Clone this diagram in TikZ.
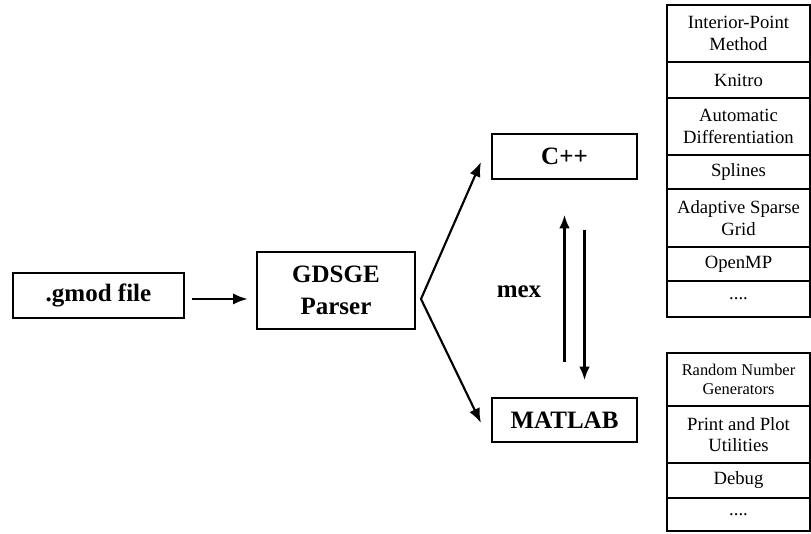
\documentclass[tikz,border=0pt]{standalone}
\usepackage{fontspec}
\setmainfont{Liberation Serif}
\usetikzlibrary{positioning,arrows.meta}

\begin{document}
\begin{tikzpicture}[x=0.75pt,y=-0.75pt,
	box/.style={draw,line width=1.8pt,inner sep=0pt,outer sep=0pt,align=center,
		font=\fontsize{18.75}{23.75}\selectfont\bfseries},
	cell/.style={draw,line width=1.2pt,inner sep=0pt,outer sep=0pt,align=center,
		minimum width=107.25pt,font=\fontsize{14}{16.3}\selectfont},
	arr/.style={line width=1.6pt,-{Latex[length=11pt,width=8.5pt]}}]
	\useasboundingbox (0,0) rectangle (811,533);
	% main flow
	\node[box,minimum width=128.25pt,minimum height=33.75pt] (gmod) at (98.5,295.5) {.gmod file};
	\node[box,minimum width=118.5pt,minimum height=57.75pt] (parser) at (336,290.5) {GDSGE\\Parser};
	\node[box,minimum width=108.75pt,minimum height=33.75pt] (cpp) at (564.5,156.5) {C++};
	\node[box,minimum width=108.75pt,minimum height=33pt] (matlab) at (564.5,420) {MATLAB};
		\node[font=\fontsize{18.75}{22}\selectfont\bfseries] (mex) at (519,292) {mex};
	\draw[arr,shorten <=6pt,shorten >=7pt] ([yshift=-2.6pt]gmod.east) -- ([yshift=-2.6pt]gmod.east -| parser.west);
	% branch
	\coordinate (split) at (421,299);
	\coordinate (tocpp) at (481,162);
	\coordinate (tomat) at (481,423);
	\draw[arr,{Latex[length=11pt,width=8.5pt]}-{Latex[length=11pt,width=8.5pt]},line join=miter] (tocpp) -- (split) -- (tomat);
	\draw[arr,-{Latex[length=10pt,width=8pt]},shorten <=27pt,shorten >=27pt] (matlab.north) -- (cpp.south);
	\draw[arr,-{Latex[length=10pt,width=8pt]},shorten <=38pt,shorten >=13.5pt] ([xshift=15pt]cpp.south) -- ([xshift=15pt]matlab.north);
	% C++ features
	\node[cell,minimum height=42.75pt,anchor=north] (ipm) at (738.5,5) {Interior-Point\\Method};
	\node[cell,minimum height=27pt,below=0pt of ipm] (knitro) {Knitro};
	\node[cell,minimum height=42.75pt,below=0pt of knitro] (autodiff) {Automatic\\Differentiation};
	\node[cell,minimum height=25.5pt,below=0pt of autodiff] (splines) {Splines};
	\node[cell,minimum height=43.5pt,below=0pt of splines] (asg) {Adaptive Sparse\\Grid};
	\node[cell,minimum height=25.5pt,below=0pt of asg] (openmp) {OpenMP};
	\node[cell,minimum height=27pt,below=0pt of openmp] (moreA) {....};
	% MATLAB features
	\node[cell,minimum height=39.75pt,anchor=north,font=\fontsize{12.3}{13.75}\selectfont] (rng) at (738.5,353) {Random Number\\Generators};
	\node[cell,minimum height=42.75pt,below=0pt of rng] (plot) {Print and Plot\\Utilities};
	\node[cell,minimum height=26.25pt,below=0pt of plot] (debug) {Debug};
	\node[cell,minimum height=24.75pt,below=0pt of debug] (moreB) {....};
\end{tikzpicture}
\end{document}
